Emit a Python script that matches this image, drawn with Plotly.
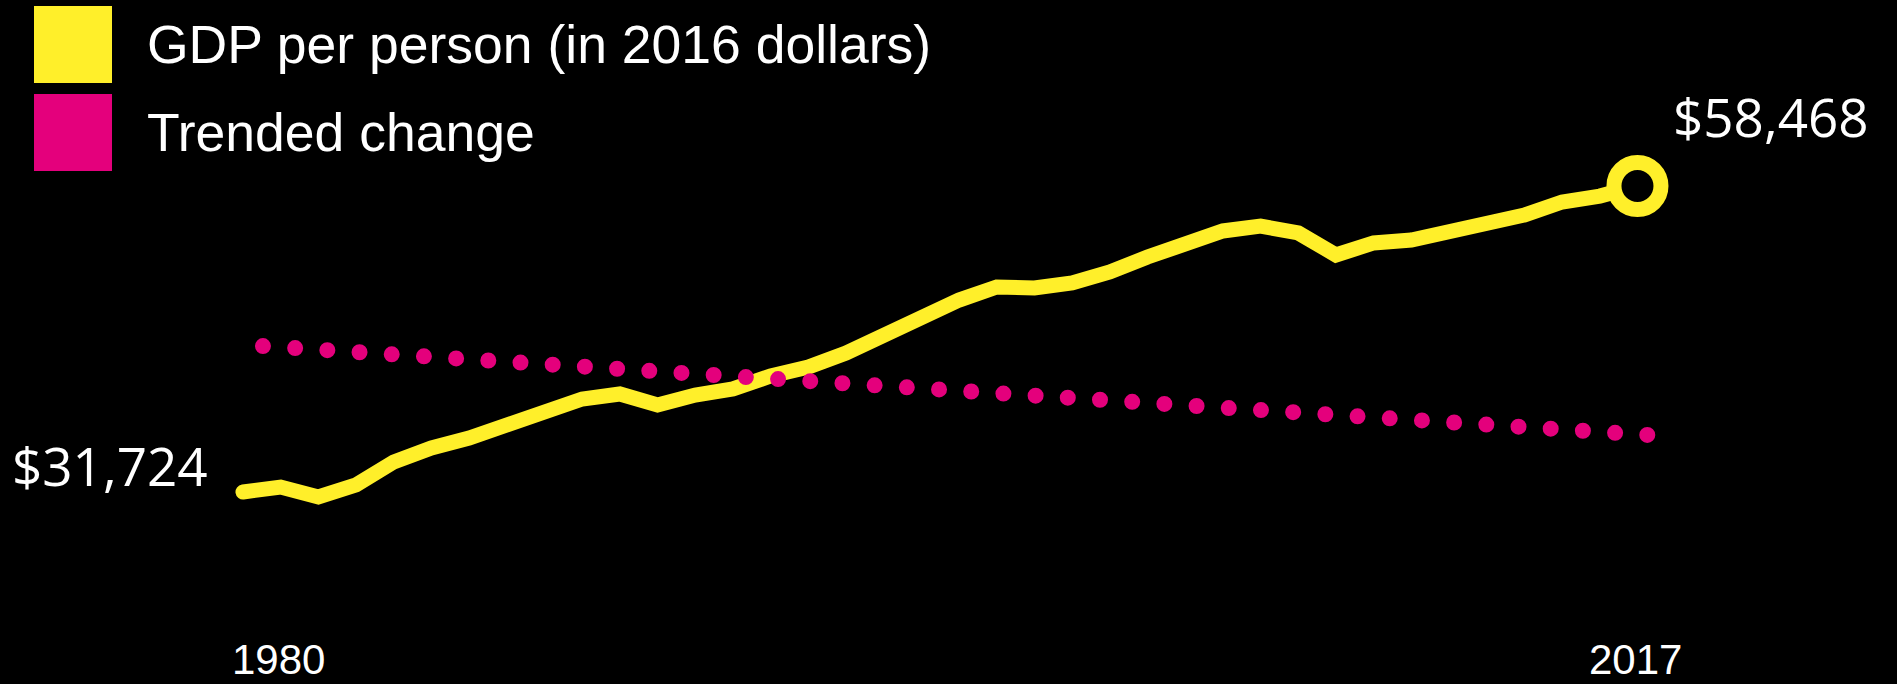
import plotly.graph_objects as go

# ---- data ----
years = list(range(1980, 2018))
gdp = [31724, 32160, 31290, 32340, 34350, 35570, 36440, 37580, 38800, 39850,
       40290, 39330, 40200, 40730, 41860, 42650, 43870, 45450, 46930, 48500,
       49640, 49550, 49990, 50950, 52260, 53570, 54540, 54970, 54360, 52440,
       53490, 53750, 54450, 54970, 55930, 57070, 57590, 58468]
trend_years = [1980.53, 2017.28]
trend_values = [44480, 36710]
legend_labels = ["GDP per person (in 2016 dollars)", "Trended change"]
tick_years = [1980, 2017]

YELLOW = "#FFEF2A"
PINK = "#E4007C"

fig = go.Figure()
fig.add_trace(go.Scatter(x=years, y=gdp, mode="lines",
                         line=dict(color=YELLOW, width=15),
                         hoverinfo="skip", showlegend=False))
fig.add_trace(go.Scatter(x=[years[-1]], y=[gdp[-1]], mode="markers",
                         marker=dict(size=47, color="black",
                                     line=dict(color=YELLOW, width=15)),
                         hoverinfo="skip", showlegend=False))
fig.add_trace(go.Scatter(x=trend_years, y=trend_values, mode="lines",
                         line=dict(color=PINK, width=16, dash="dot"),
                         hoverinfo="skip", showlegend=False))

# legend swatches and labels
for i, (lab, col) in enumerate(zip(legend_labels, [YELLOW, PINK])):
    y0 = 6 + i * 88
    fig.add_shape(type="rect", xref="paper", yref="paper",
                  x0=34 / 1897, x1=112 / 1897,
                  y0=1 - (y0 + 77) / 684, y1=1 - y0 / 684,
                  fillcolor=col, line=dict(width=0))
    fig.add_annotation(xref="paper", yref="paper", x=145 / 1897,
                       y=1 - (y0 + 39) / 684, xanchor="left", yanchor="middle",
                       text=lab, showarrow=False,
                       font=dict(family="Liberation Sans, Arial", size=53.5, color="white"))

# value labels
fig.add_annotation(x=years[0], y=gdp[0], text=f"${gdp[0]:,}", showarrow=False,
                   xanchor="right", yanchor="middle", xshift=-33, yshift=27,
                   font=dict(family="Open Sans", size=53, color="white"))
fig.add_annotation(x=years[-1], y=gdp[-1], text=f"${gdp[-1]:,}", showarrow=False,
                   xanchor="center", yanchor="middle", xshift=134, yshift=70,
                   font=dict(family="Open Sans", size=53, color="white"))

# year labels
for yr, sh in zip(tick_years, [36, -2]):
    fig.add_annotation(x=yr, xref="x", yref="paper", y=1 - 659 / 684,
                       text=str(yr), showarrow=False, xanchor="center",
                       yanchor="middle", xshift=sh,
                       font=dict(family="Liberation Sans, Arial", size=42, color="white"))

fig.update_layout(
    width=1897, height=684,
    margin=dict(l=0, r=0, t=0, b=0),
    paper_bgcolor="black", plot_bgcolor="black",
    xaxis=dict(range=[1973.553, 2023.886], visible=False, fixedrange=True),
    yaxis=dict(range=[14943, 74724], visible=False, fixedrange=True),
    showlegend=False,
)

post = """
document.body.style.margin = '0';
document.body.style.background = 'black';
var gd = document.getElementById('{plot_id}');
var traces = gd.querySelectorAll('.scatterlayer .trace');
var p0 = traces[0].querySelector('path.js-line');
if (p0) { p0.style.strokeLinecap = 'round'; }
var p2 = traces[2].querySelector('path.js-line');
if (p2) { p2.style.strokeLinecap = 'round'; p2.style.strokeDasharray = '0 32.26'; }
"""

fig.write_html("out.html", post_script=post, config={"displayModeBar": False})
